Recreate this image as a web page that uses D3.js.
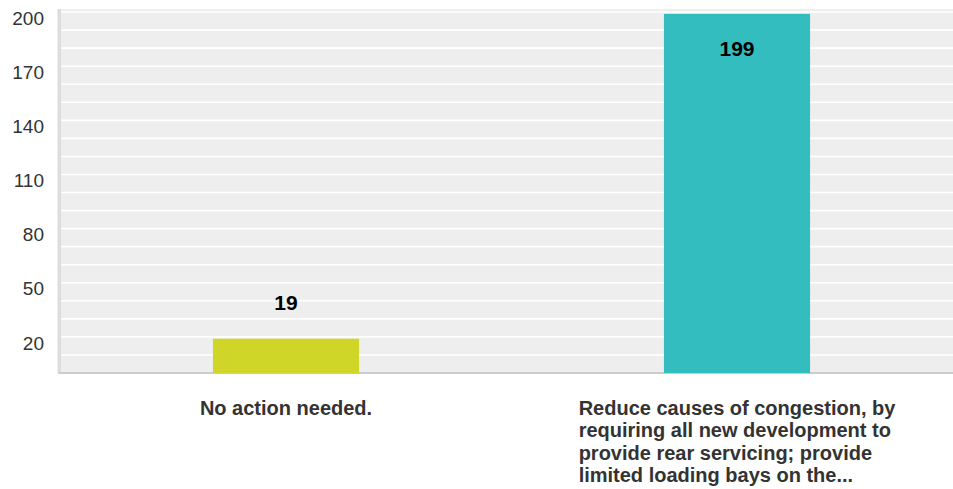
<!DOCTYPE html>
<html>
<head>
<meta charset="utf-8">
<script src="https://cdn.jsdelivr.net/npm/d3@7"></script>
<style>
  html, body { margin: 0; padding: 0; background: #ffffff; }
  svg { display: block; }
</style>
</head>
<body>
<svg id="chart" width="953" height="489"></svg>
<script>
const categories = [
  "No action needed.",
  "Reduce causes of congestion, by requiring all new development to provide rear servicing; provide limited loading bays on the..."
];
const values = [19, 199];
const barColors = ["#d0d628", "#33bdbf"];
const tickValues = [20, 50, 80, 110, 140, 170, 200];
const gridValues = d3.range(10, 201, 10);

const W = 953, H = 489;
const svg = d3.select("#chart");
const font = "'Liberation Sans', Arial, Helvetica, sans-serif";

const plotLeft = 60.5, plotRight = 962.5, plotTop = 9, plotBottom = 373;

const x = d3.scaleBand().domain(categories).range([plotLeft, plotRight]).padding(0);
const y = d3.scaleLinear().domain([0, 201.7]).range([plotBottom, plotTop]);
const barW = x.bandwidth() * 0.324;

// background
svg.append("rect")
  .attr("x", 60).attr("y", plotTop)
  .attr("width", W - 60).attr("height", plotBottom - plotTop)
  .attr("fill", "#eeeeee");

// grid lines
svg.append("g").selectAll("line").data(gridValues).join("line")
  .attr("x1", 61).attr("x2", W)
  .attr("y1", d => y(d)).attr("y2", d => y(d))
  .attr("stroke", "#ffffff").attr("stroke-width", 1.6);

// left axis line
svg.append("rect")
  .attr("x", 57.5).attr("y", plotTop)
  .attr("width", 3.5).attr("height", plotBottom - plotTop + 1)
  .attr("fill", "#dddddd");

// bottom axis line
svg.append("rect")
  .attr("x", 59).attr("y", plotBottom - 1)
  .attr("width", W - 59).attr("height", 2)
  .attr("fill", "#cccccc");

// y tick labels
svg.append("g").selectAll("text").data(tickValues).join("text")
  .attr("x", 44).attr("y", d => y(d) + 6)
  .attr("dy", "0.35em")
  .attr("text-anchor", "end")
  .attr("font-family", font).attr("font-size", 19)
  .attr("fill", "#333333")
  .text(d => d);

// bars
const bars = categories.map((c, i) => ({ c, v: values[i], color: barColors[i] }));
svg.append("g").selectAll("rect").data(bars).join("rect")
  .attr("x", d => x(d.c) + x.bandwidth() / 2 - barW / 2)
  .attr("y", d => y(d.v))
  .attr("width", barW)
  .attr("height", d => y(0) - y(d.v))
  .attr("fill", d => d.color);

// value labels
svg.append("g").selectAll("text").data(bars).join("text")
  .attr("x", d => x(d.c) + x.bandwidth() / 2)
  .attr("y", d => (y(0) - y(d.v) > 60) ? y(d.v) + 35 : y(d.v) - 36)
  .attr("dy", "0.35em")
  .attr("text-anchor", "middle")
  .attr("font-family", font).attr("font-size", 21).attr("font-weight", "bold")
  .attr("fill", "#000000")
  .text(d => d.v);

// category labels (wrapped; block centered, lines left-aligned)
const maxWrap = 345, lineH = 22.4, firstBaseline = 415;
categories.forEach(c => {
  const g = svg.append("g");
  const t = g.append("text")
    .attr("font-family", font).attr("font-size", 20).attr("font-weight", "bold")
    .attr("fill", "#333333");
  const words = c.split(/\s+/);
  const lines = [];
  let cur = [];
  const probe = t.append("tspan");
  words.forEach(w => {
    const test = cur.concat([w]).join(" ");
    probe.text(test);
    if (probe.node().getComputedTextLength() > maxWrap && cur.length) {
      lines.push(cur.join(" "));
      cur = [w];
    } else {
      cur.push(w);
    }
  });
  if (cur.length) lines.push(cur.join(" "));
  probe.remove();
  const spans = lines.map((l, i) => t.append("tspan")
    .attr("y", firstBaseline + i * lineH).text(l));
  const maxW = d3.max(spans, s => s.node().getComputedTextLength());
  const x0 = x(c) + x.bandwidth() / 2 - maxW / 2;
  spans.forEach(s => s.attr("x", x0));
});
</script>
</body>
</html>
